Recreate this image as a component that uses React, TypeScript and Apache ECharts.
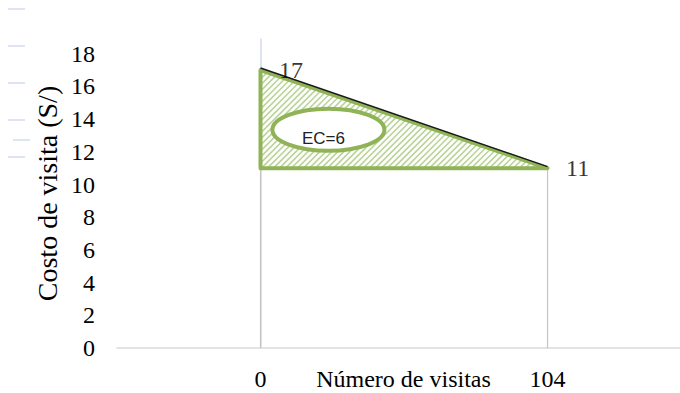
import React, { useEffect, useRef } from "react";
import * as echarts from "echarts";

// Data
const xPoints: number[] = [0, 104];
const costValues: number[] = [17, 11];
const baseCost = 11;
const yTickLabels: string[] = ["0", "2", "4", "6", "8", "10", "12", "14", "16", "18"];
const xTickLabels: string[] = ["0", "104"];
const ecLabel = "EC=6";
const ecCenter: number[] = [24.6, 13.35];
const yTitle = "Costo de visita (S/)";
const xTitle = "Número de visitas";

const SERIF = "Liberation Serif";
const GREEN = "#8fb356";
const HATCH = "#bcd49a";
const FS = 24;

export default function App() {
  const ref = useRef<HTMLDivElement>(null);
  useEffect(() => {
    if (!ref.current) return;
    const chart = echarts.init(ref.current, undefined, { renderer: "svg" });

    const renderTriangle = (params: any, api: any) => {
      const A = api.coord([xPoints[0], costValues[0]]);
      const B = api.coord([xPoints[1], costValues[1]]);
      const C = api.coord([xPoints[0], baseCost]);
      const poly = [A, B, C];
      const sums = poly.map((p) => p[0] + p[1]);
      const cMin = Math.min(...sums);
      const cMax = Math.max(...sums);
      const children: any[] = [];
      children.push({
        type: "polygon",
        shape: { points: poly },
        style: { fill: "#ffffff", stroke: "none" },
      });
      for (let c = cMin + 3; c < cMax; c += 6) {
        const pts: number[][] = [];
        for (let i = 0; i < 3; i++) {
          const P = poly[i];
          const Q = poly[(i + 1) % 3];
          const fP = P[0] + P[1] - c;
          const fQ = Q[0] + Q[1] - c;
          if ((fP <= 0 && fQ > 0) || (fP > 0 && fQ <= 0)) {
            const t = fP / (fP - fQ);
            pts.push([P[0] + t * (Q[0] - P[0]), P[1] + t * (Q[1] - P[1])]);
          }
        }
        if (pts.length >= 2) {
          children.push({
            type: "line",
            shape: { x1: pts[0][0], y1: pts[0][1], x2: pts[1][0], y2: pts[1][1] },
            style: { stroke: HATCH, lineWidth: 1.6 },
          });
        }
      }
      children.push({
        type: "polygon",
        shape: { points: poly },
        style: { fill: "none", stroke: GREEN, lineWidth: 4, lineJoin: "round" },
      });
      children.push({
        type: "line",
        shape: { x1: A[0], y1: A[1] - 2, x2: B[0], y2: B[1] - 1.5 },
        style: { stroke: "#1a1a1a", lineWidth: 1.5 },
      });
      const E = api.coord(ecCenter);
      children.push({
        type: "ellipse",
        shape: { cx: E[0], cy: E[1], rx: 56, ry: 21 },
        style: { fill: "#ffffff", stroke: GREEN, lineWidth: 4 },
      });
      children.push({
        type: "text",
        x: E[0] - 5,
        y: E[1] + 9,
        style: {
          text: ecLabel,
          fill: "#222",
          font: "17px 'Liberation Sans', Arial, sans-serif",
          align: "center",
          verticalAlign: "middle",
        },
      });
      return { type: "group", children };
    };

    const dashYs = [9, 46, 83, 120, 157];
    const graphics: any[] = dashYs.map((y) => ({
      type: "line",
      shape: { x1: 8, y1: y, x2: 25, y2: y },
      style: { stroke: "#d3ddec", lineWidth: 1.5 },
    }));
    graphics.push({
      type: "line",
      shape: { x1: 13, y1: 140, x2: 30, y2: 140 },
      style: { stroke: "#d3ddec", lineWidth: 1.5 },
    });

    chart.setOption({
      animation: false,
      backgroundColor: "#ffffff",
      graphic: graphics,
      grid: {
        left: 117,
        right: 0,
        top: 39,
        bottom: 45,
        containLabel: false,
        outerBoundsMode: "none",
      },
      xAxis: {
        type: "value",
        min: -52,
        max: 152,
        interval: 52,
        name: xTitle,
        nameLocation: "middle",
        nameGap: 19,
        nameMoveOverlap: false,
        nameTextStyle: {
          fontFamily: SERIF,
          fontSize: FS,
          color: "#000",
          verticalAlign: "top",
          padding: [0, 0, 0, 10],
        },
        axisLine: { show: true, lineStyle: { color: "#dadada", width: 1.5 } },
        axisTick: { show: false },
        splitLine: { show: false },
        axisLabel: {
          margin: 19,
          fontFamily: SERIF,
          fontSize: FS,
          color: "#000",
          formatter: (v: number) => (xTickLabels.includes(String(v)) ? String(v) : ""),
        },
      },
      yAxis: {
        type: "value",
        min: 0,
        max: 18.9,
        interval: 2,
        name: yTitle,
        nameLocation: "middle",
        nameGap: 56,
        nameMoveOverlap: false,
        nameTextStyle: { fontFamily: SERIF, fontSize: 28, color: "#000" },
        axisLine: { show: true, lineStyle: { color: "#d3ddec", width: 1.5 } },
        axisTick: { show: false },
        splitLine: { show: false },
        axisLabel: {
          margin: 22,
          fontFamily: SERIF,
          fontSize: FS,
          color: "#000",
          formatter: (v: number) => (yTickLabels.includes(String(v)) ? String(v) : ""),
        },
      },
      series: [
        {
          type: "line",
          data: [
            [xPoints[0], 0],
            [xPoints[0], baseCost],
          ],
          symbol: "none",
          lineStyle: { color: "#c4c4c4", width: 1.2 },
          z: 1,
        },
        {
          type: "line",
          data: [
            [xPoints[1], 0],
            [xPoints[1], baseCost],
          ],
          symbol: "none",
          lineStyle: { color: "#c4c4c4", width: 1.2 },
          z: 1,
        },
        {
          type: "custom",
          renderItem: renderTriangle,
          data: [[0, 0]],
          z: 3,
          clip: false,
        },
        {
          type: "scatter",
          data: xPoints.map((x, i) => [x, costValues[i]]),
          symbolSize: 1,
          itemStyle: { color: "rgba(0,0,0,0)" },
          z: 5,
          label: {
            show: true,
            position: "right",
            distance: 18,
            fontFamily: SERIF,
            fontSize: FS,
            color: "#000",
            formatter: (p: any) => String(p.value[1]),
          },
        },
      ],
    });
    return () => chart.dispose();
  }, []);
  return (
    <div
      ref={ref}
      style={{ position: "absolute", left: 0, top: 0, width: 680, height: 393 }}
    />
  );
}
